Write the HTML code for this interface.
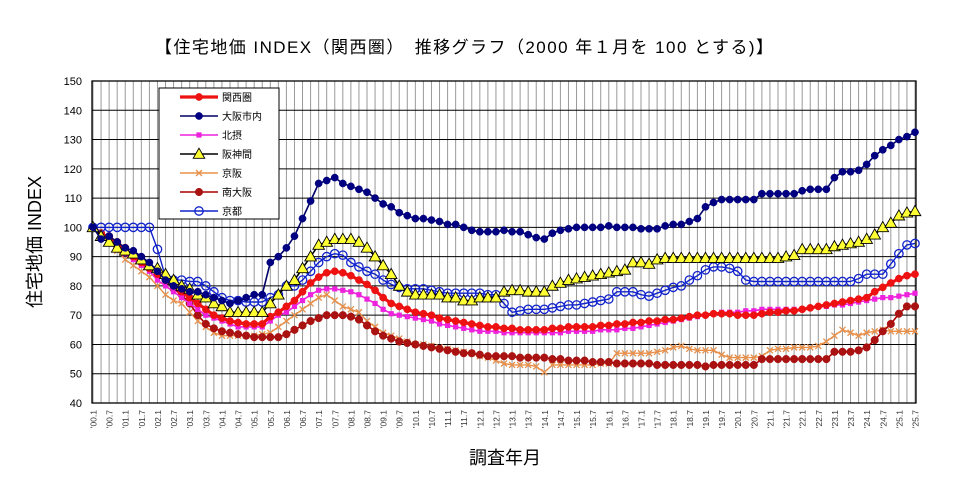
<!DOCTYPE html>
<html><head><meta charset="utf-8"><style>
body{margin:0;background:#fff;}
svg{display:block;font-family:"Liberation Sans","Noto Sans CJK JP",sans-serif;}
</style></head><body>
<svg id="chart" width="957" height="493" viewBox="0 0 957 493" xmlns="http://www.w3.org/2000/svg">
<text x="155" y="53" font-size="17" textLength="618" lengthAdjust="spacing" fill="#000">【住宅地価 INDEX（関西圏）　推移グラフ（2000 年１月を 100 とする)】</text>
<text transform="translate(41,242) rotate(-90)" font-size="18" text-anchor="middle">住宅地価 INDEX</text>
<text x="505" y="464" font-size="18" text-anchor="middle">調査年月</text>
<g id="grid"></g>
<g id="axes"></g>
<g id="series"></g>
<g id="legend"></g>
</svg>
<script>
const yTicks=[40,50,60,70,80,90,100,110,120,130,140,150];
const seriesNames=["関西圏","大阪市内","北摂","阪神間","京阪","南大阪","京都"];
const kansai=[100,98,96,94, 92,90,88,86, 84,82,80,78, 76,74,72,70, 69,68,67.5,67, 67,67,69.5,71, 73,75,78,81, 83,84.5,85,84.5, 83.5,82,80.5,78.5, 76,74,73,72, 71,70.5,70,69, 68.5,68,67.5,67, 66.5,66,66,65.5, 65.5,65,65,65, 65,65.5,65.5,66, 66,66,66,66.5, 66.5,67,67,67.5, 67.5,68,68,68.5, 68.5,69,69.5,70, 70,70.5,70.5,70.5, 70,70,70,70.5, 71,71,71.5,71.5, 72,72.5,73,73.5, 74,74.5,75,75.5, 76,78,79.5,81, 82.5,83.5,84];
const osakaCity=[100,96,97,95, 93,92,90,88, 85,82,80,79, 78,78,77,76, 75,74,75,76, 77,77,88,90, 93,97,103,109, 115,116,117,115, 114,113,112,110, 108,107,105,104, 103,103,102.5,102, 101,101,100,99, 98.5,98.5,98.5,99, 98.5,98.5,97.5,96.5, 96,98,99,99.5, 100,100,100,100, 100.5,100,100,100, 99.5,99.5,99.5,100.5, 101,101,102,103, 107,108.5,109.5,109.5, 109.5,109.5,109.5,111.5, 111.5,111.5,111.5,111.5, 112.5,113,113,113, 117,119,119,119.5, 121.5,124.5,126.5,128, 130,131,132.5];
const hokusetsu=[100,98,96,93, 91,89,87,85, 82,80,78,76, 74,72,70,69, 68,67,66,66, 66,66,68,70, 71,73,75,77, 78.5,79,79,78.5, 78,77,75.5,74, 72,70.5,70,69.5, 69,68.5,68,67, 66.5,66,65.5,65, 64.5,64.5,64.5,64, 64,64,64,64, 64,64,64,64.5, 64.5,64.5,64.5,65, 65,65,65.5,65.5, 66,66.5,67,67.5, 68,68.5,69,69.5, 70,70.5,71,71, 71,71.5,71.5,72, 72,72,72,72, 72,72.5,73,73, 73.5,73.5,74,74.5, 75,75.5,76,76, 76.5,77,77.5];
const hanshin=[100,97,95,93, 92,91,89,87, 86,84,82,80, 79,77,76,74, 73,71,71,71, 71,71,74,77, 80,82,86,90, 94,95,96,96, 96,95,93,90, 87,84,80,78, 77,77,77,77, 76,76,75,75, 76,76,76,78, 78.5,78.5,78,78, 78,80,81,82, 82.5,83,83.5,84, 84.5,85,85.5,88, 88,87.5,89,89.5, 89.5,89.5,89.5,89.5, 89.5,89.5,89.5,89.5, 89.5,89.5,89.5,89.5, 89.5,89.5,90,90.5, 92.5,92.5,92.5,92.5, 93.5,94,94.5,95, 96,97.5,100,101.5, 104,105,105.5];
const keihan=[100,97,95,92, 89,87,85,83, 80,77,75,74, 71,68,66,64, 63,63,63,63, 63,63.5,64,66, 68,70,72,74, 76,77,75,73, 72,71,68,66, 64,63,62,61, 60,60,59.5,59, 58.5,58,57.5,57, 56,55.5,54.5,53.5, 53,53,53,52.5, 50.5,53,53,53, 53,53,53,53.5, 53.5,57,57,57, 57,57,57.5,58, 59,59.5,58.5,58, 58,58,56.5,55.5, 55.5,55.5,55.5,56, 58,58.5,58.5,59, 59,59,59.5,61, 63,65,64,63, 64,64.5,65,64.5, 64.5,64.5,64.5];
const minamiOsaka=[100,98,97,95, 93,90,88,86, 84,82,79,77, 74,70,67,65.5, 64.5,64,63.5,63, 62.5,62.5,62.5,62.5, 63.5,65,66.5,68, 69,70,70,70, 69.5,68.5,66.5,64.5, 63,62,61,60.5, 60,59.5,59,58.5, 58,57.5,57,57, 56.5,56,56,56, 56,55.5,55.5,55.5, 55.5,55,55,54.5, 54.5,54.5,54,54, 54,53.5,53.5,53.5, 53.5,53.5,53,53, 53,53,53,53, 52.5,53,53,53, 53,53,53,55, 55,55,55,55, 55,55,55,55, 57.5,57.5,57.5,58, 59,61.5,64.5,67, 70.5,73,73];
const kyoto=[100,100,100,100, 100,100,100,100, 92.5,83,82,82, 81.5,81.5,80,78, 76,75,75,74.5, 74.5,74.5,76,77, 80,80,82,85, 88,90,91,90.5, 88,86.5,85,84, 82,80.5,79.5,79, 79,79,78.5,78, 77.5,77.5,77.5,77.5, 77.5,77,77,74, 71,71.5,72,72, 72,72.5,73,73.5, 73.5,74,74.5,75, 75.5,78,78,78, 77,76.5,77.5,78.5, 79.5,80,82,83.5, 85.5,86.5,86.5,86, 85,82,81.5,81.5, 81.5,81.5,81.5,81.5, 81.5,81.5,81.5,81.5, 81.5,81.5,81.5,82.5, 84,84,84,87.5, 91,94,94.5];
const xLabels=[];
for(let y=0;y<=25;y++){const yy=String(y).padStart(2,'0');xLabels.push("'"+yy+".1");xLabels.push("'"+yy+".7");}

const NS="http://www.w3.org/2000/svg";
const L=92,R=916,T=81,B=403,N=kansai.length;
const yMin=40,yMax=150;
function xs(i){return L+1+(R-L-2)*i/(N-1);}
function ys(v){return B-(v-yMin)/(yMax-yMin)*(B-T);}
function mk(tag,at,parent){const e=document.createElementNS(NS,tag);for(const k in at)e.setAttribute(k,at[k]);parent.appendChild(e);return e;}
const grid=document.getElementById('grid'),axes=document.getElementById('axes'),ser=document.getElementById('series'),leg=document.getElementById('legend');
for(let i=0;i<N;i++){
  const l=mk('line',{x1:xs(i),x2:xs(i),y1:T,y2:B,stroke:'#9a9a9a','stroke-width':1},grid);
  
  
}
yTicks.forEach(v=>{
  const l=mk('line',{x1:L,x2:R,y1:ys(v),y2:ys(v),stroke:'#000','stroke-width':1},grid);
  
  
  const t=mk('text',{x:L-10,y:ys(v)+4,'font-size':11,'text-anchor':'end'},axes);
  t.textContent=v;
  
  
});
const fr=mk('rect',{x:L,y:T,width:R-L,height:B-T,fill:'none',stroke:'#000','stroke-width':1.3},axes);


xLabels.forEach((s,k)=>{
  const x=xs(k*2);
  const t=mk('text',{transform:`translate(${x+3.5},${B+7}) rotate(-90)`,'font-size':8.5,'text-anchor':'end',fill:'#333'},axes);
  t.textContent=s;
  
  
});
const styles=[
 {data:kansai,color:'#ee1111',lw:3.2,m:'dot',r:3.6,fill:'#ee1111',ms:'#ee1111'},
 {data:osakaCity,color:'#000066',lw:1.6,m:'dot',r:3.6,fill:'#000080',ms:'#000080'},
 {data:hokusetsu,color:'#ee22dd',lw:1.6,m:'sq',r:2.6,fill:'#ee22dd',ms:'#ee22dd'},
 {data:hanshin,color:'#000',lw:1.6,m:'tri',r:5.8,fill:'#ffff33',ms:'#000'},
 {data:keihan,color:'#e8904a',lw:1.4,m:'x',r:3,fill:'none',ms:'#e8904a'},
 {data:minamiOsaka,color:'#aa0000',lw:1.6,m:'dot',r:3.8,fill:'#aa1111',ms:'#aa1111'},
 {data:kyoto,color:'#1122cc',lw:1.4,m:'ring',r:4.2,fill:'#fff',ms:'#1122cc'}
];
function marker(s,x,y,p){
  let e;
  if(s.m==='dot'||s.m==='ring') e=mk('circle',{cx:x,cy:y,r:s.r,fill:s.m==='ring'?'none':s.fill,stroke:s.ms,'stroke-width':s.m==='ring'?1.3:0.5},p);
  else if(s.m==='sq') e=mk('rect',{x:x-s.r,y:y-s.r,width:2*s.r,height:2*s.r,fill:s.fill},p);
  else if(s.m==='tri') e=mk('path',{d:`M${x},${y-s.r}L${x+s.r},${y+s.r*0.75}L${x-s.r},${y+s.r*0.75}Z`,fill:s.fill,stroke:'#000','stroke-width':0.9},p);
  else e=mk('path',{d:`M${x-s.r},${y-s.r}L${x+s.r},${y+s.r}M${x-s.r},${y+s.r}L${x+s.r},${y-s.r}`,stroke:s.ms,'stroke-width':1.3,fill:'none'},p);
  return e;
}
const order=[4,5,2,0,6,3,1];
order.forEach(si=>{
  const s=styles[si];
  const g=mk('g',{},ser);
  
  
  const pts=s.data.map((v,i)=>xs(i).toFixed(1)+','+ys(v).toFixed(1)).join(' ');
  const pl=mk('polyline',{points:pts,fill:'none',stroke:s.color,'stroke-width':s.lw,'stroke-linejoin':'round'},g);
  
  
  s.data.forEach((v,i)=>{
    const m=marker(s,xs(i),ys(v),g);
    
    
  });
});
const lb=mk('rect',{x:159,y:88,width:120,height:131,fill:'#fff',stroke:'#000','stroke-width':1},leg);


seriesNames.forEach((n,i)=>{
  const s=styles[i],y=97+i*19;
  const g=mk('g',{},leg);
  
  
  mk('line',{x1:180,x2:218,y1:y,y2:y,stroke:s.color,'stroke-width':s.lw},g);
  marker(s,199,y,g);
  const t=mk('text',{x:222,y:y+4,'font-size':10},g);
  t.textContent=n;
});
</script>
</body></html>
